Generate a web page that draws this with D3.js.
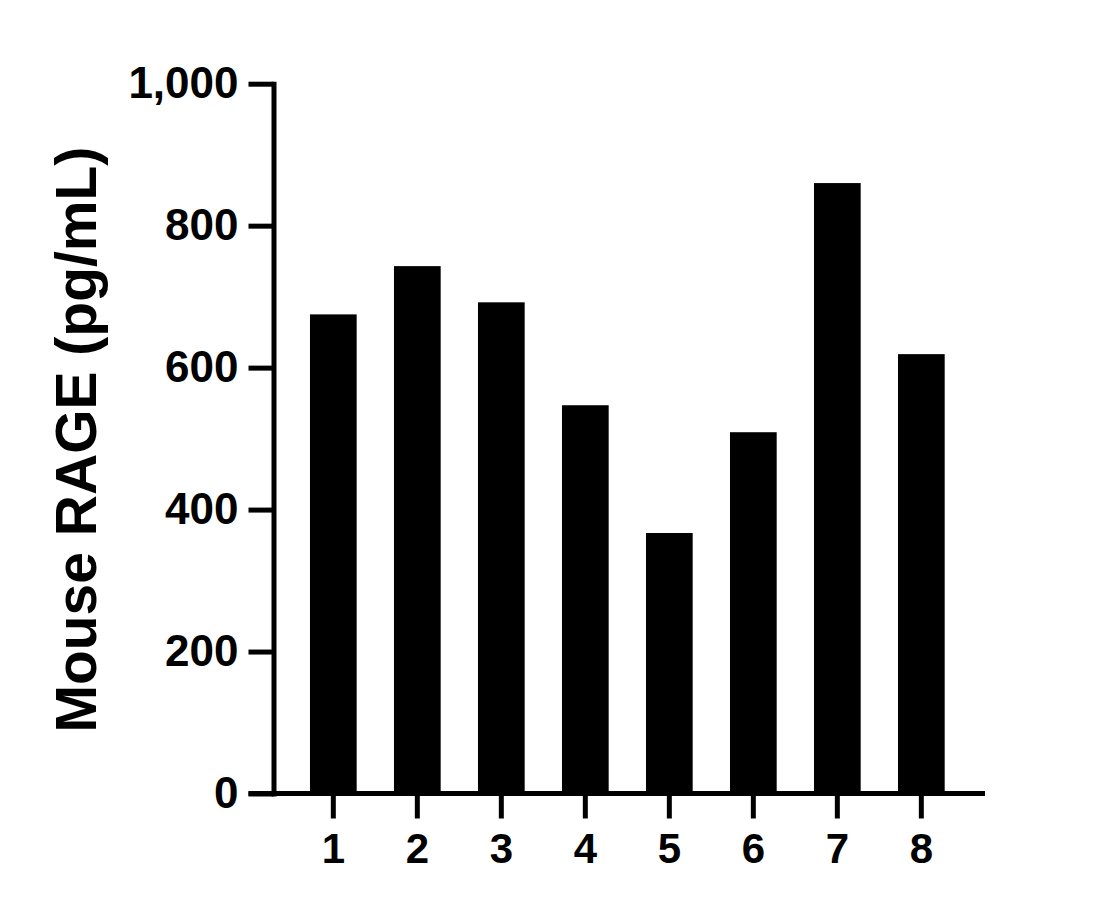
<!DOCTYPE html>
<html>
<head>
<meta charset="utf-8">
<script src="https://cdn.jsdelivr.net/npm/d3@7"></script>
<style>
  body { margin: 0; background: #fff; }
  svg { display: block; }
  text { font-family: "Liberation Sans", Arial, sans-serif; font-weight: bold; fill: #000; }
</style>
</head>
<body>
<div id="chart"></div>
<script>
// data
var categories = ["1", "2", "3", "4", "5", "6", "7", "8"];
var values = [675, 743, 692, 547, 367, 509, 860, 619];
var yTicks = [0, 200, 400, 600, 800, 1000];
var yTitle = "Mouse RAGE (pg/mL)";

var width = 1120,
  height = 909;

var plotLeft = 273.5,
  plotRight = 985,
  plotTop = 83.7,
  plotBottom = 793.5,
  tickLen = 25;

var svg = d3.select('#chart').append('svg')
  .attr('width', width)
  .attr('height', height);

var x = d3.scaleBand()
  .domain(categories)
  .range([plotLeft, plotRight])
  .paddingInner(0.444)
  .paddingOuter(0.457)
  .align(0.475);

var y = d3.scaleLinear()
  .domain([0, 1000])
  .range([plotBottom, plotTop]);

// bars
svg.append('g')
  .selectAll('rect')
  .data(values)
  .enter().append('rect')
  .attr('x', function(d, i) { return x(categories[i]); })
  .attr('width', x.bandwidth())
  .attr('y', function(d) { return y(d); })
  .attr('height', function(d) { return y(0) - y(d); })
  .style('fill', '#000');

// y axis
var yAxis = svg.append('g')
  .attr('transform', 'translate(' + plotLeft + ',0)')
  .call(d3.axisLeft(y)
    .tickValues(yTicks)
    .tickSize(tickLen)
    .tickSizeOuter(0)
    .tickPadding(10)
    .tickFormat(d3.format(',')));

yAxis.select('.domain')
  .attr('stroke', '#000')
  .attr('stroke-width', 5)
  .attr('stroke-linecap', 'square');
yAxis.selectAll('.tick line')
  .attr('stroke', '#000')
  .attr('stroke-width', 5);
yAxis.selectAll('.tick text')
  .style('font-size', '44px')
  .style('font-family', '"Liberation Sans", Arial, sans-serif')
  .style('font-weight', 'bold')
  .attr('fill', '#000');

// x axis
var xAxis = svg.append('g')
  .attr('transform', 'translate(0,' + plotBottom + ')')
  .call(d3.axisBottom(x)
    .tickSize(tickLen)
    .tickSizeOuter(0)
    .tickPadding(15));

xAxis.select('.domain').remove();
xAxis.append('line')
  .attr('x1', plotLeft - tickLen)
  .attr('x2', plotRight)
  .attr('stroke', '#000')
  .attr('stroke-width', 5);
xAxis.selectAll('.tick line')
  .attr('stroke', '#000')
  .attr('stroke-width', 5);
xAxis.selectAll('.tick text')
  .style('font-size', '42px')
  .style('font-family', '"Liberation Sans", Arial, sans-serif')
  .style('font-weight', 'bold')
  .attr('fill', '#000');

// y title
svg.append('text')
  .attr('transform', 'translate(96,' + ((plotTop + plotBottom) / 2 + 1) + ') rotate(-90)')
  .attr('text-anchor', 'middle')
  .style('font-size', '57px')
  .text(yTitle);
</script>
</body>
</html>
